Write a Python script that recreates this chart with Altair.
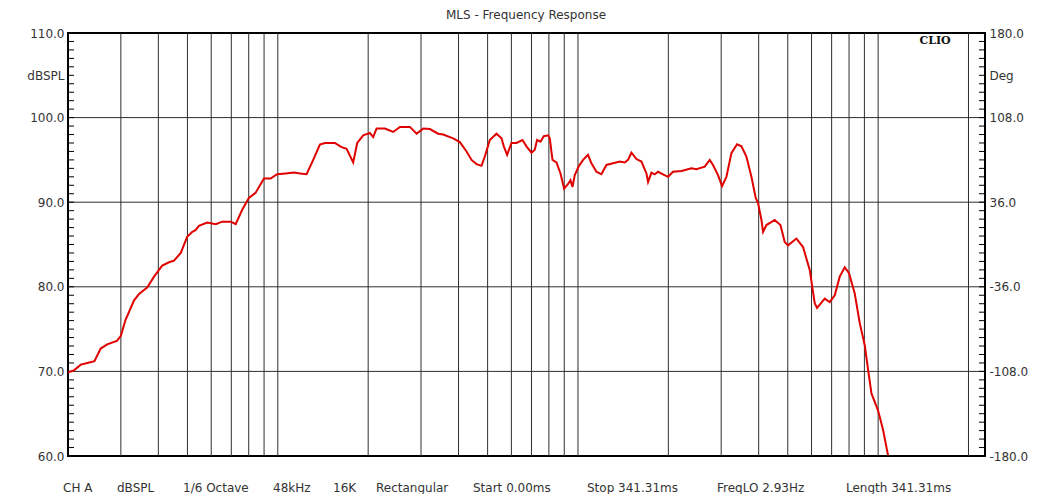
import altair as alt
import pandas as pd

# ---- data ----
freq_hz = [20.0, 20.9, 22.05, 23.2, 24.5, 25.7, 27.0, 29.1, 30.0, 31.1,
           33.2, 34.5, 36.7, 38.7, 41.2, 43.4, 45.1, 47.5, 49.9, 51.9,
           53.2, 54.6, 58.2, 62.1, 65.3, 69.7, 72.4, 76.1, 80.1, 84.3,
           89.9, 94.6, 99.5, 106.2, 113.2, 118.5, 124.7, 131.2, 138.1, 143.5,
           154.9, 163.0, 169.5, 178.3, 183.9, 192.6, 202.6, 207.8, 213.3, 227.4,
           242.4, 255.1, 275.4, 290.0, 305.0, 321.0, 342.1, 355.5, 383.9, 404.1,
           425.4, 442.0, 459.2, 477.1, 489.4, 508.5, 535.3, 556.2, 566.2, 580.7,
           600.5, 623.9, 653.3, 673.6, 700.0, 718.0, 730.9, 750.2, 769.4, 795.2,
           805.5, 822.4, 848.0, 874.5, 899.0, 927.0, 944.2, 958.7, 975.8, 1008,
           1040, 1080, 1109, 1152, 1197, 1244, 1309, 1378, 1432, 1468,
           1507, 1566, 1627, 1691, 1712, 1757, 1802, 1848, 1920, 1996,
           2073, 2212, 2387, 2481, 2644, 2748, 2818, 2928, 3020, 3123,
           3245, 3388, 3504, 3640, 3783, 3910, 3980, 4086, 4136, 4245,
           4524, 4726, 4884, 5010, 5343, 5621, 5917, 6149, 6259, 6639,
           6898, 7168, 7449, 7740, 7999, 8357, 8684, 9025, 9257, 9501,
           9991, 10383, 10787]

spl_db = [69.9, 70.1, 70.8, 71.0, 71.2, 72.7, 73.2, 73.6, 74.2, 76.1,
          78.4, 79.15, 79.9, 81.2, 82.5, 82.9, 83.1, 84.0, 85.9, 86.5,
          86.7, 87.2, 87.6, 87.4, 87.7, 87.7, 87.4, 89.1, 90.5, 91.1,
          92.8, 92.8, 93.3, 93.4, 93.5, 93.4, 93.3, 95.0, 96.8, 97.0,
          97.0, 96.5, 96.3, 94.7, 97.0, 97.9, 98.2, 97.7, 98.7, 98.7,
          98.3, 98.9, 98.9, 98.1, 98.7, 98.65, 98.1, 98.0, 97.55, 97.1,
          96.0, 95.0, 94.5, 94.3, 95.4, 97.35, 98.1, 97.55, 96.6, 95.6,
          97.0, 97.0, 97.35, 96.6, 95.85, 96.2, 97.35, 97.15, 97.8, 97.9,
          97.55, 95.0, 94.7, 93.4, 91.6, 92.15, 92.6, 91.8, 93.2, 94.3,
          95.0, 95.6, 94.6, 93.6, 93.3, 94.4, 94.6, 94.8, 94.7, 95.0,
          95.85, 95.1, 94.8, 93.4, 92.4, 93.5, 93.3, 93.6, 93.3, 93.0,
          93.6, 93.7, 94.0, 93.9, 94.2, 95.0, 94.4, 93.2, 91.9, 93.0,
          95.8, 96.85, 96.6, 95.4, 93.0, 90.5, 89.9, 87.9, 86.5, 87.3,
          87.9, 87.3, 85.3, 84.9, 85.7, 84.7, 82.0, 78.05, 77.5, 78.6,
          78.2, 79.0, 81.2, 82.3, 81.6, 79.2, 75.7, 73.1, 70.2, 67.4,
          65.4, 63.1, 60.1]

grid_freqs = [30, 40, 50, 60, 70, 80, 90, 100,
              200, 300, 400, 500, 600, 700, 800, 900, 1000,
              2000, 3000, 4000, 5000, 6000, 7000, 8000, 9000, 10000, 20000]
grid_db = [70, 80, 90, 100]
minor_db = list(range(60, 111))

x_label_values = [20, 50, 100, 200, 500, 1000, 2000, 3000, 5000, 10000, 20000]
x_label_texts = ["20", "50", "100", "200", "500", "1k", "2k", "Hz", "5k", "10k", "20k"]

left_label_values = [60, 70, 80, 90, 100, 105, 110]
left_unit = "dBSPL"
right_unit = "Deg"

title_text = "MLS - Frequency Response"
brand_text = "CLIO"
footer_items = ["CH A", "dBSPL", "1/6 Octave", "48kHz", "16K", "Rectangular",
                "Start 0.00ms", "Stop 341.31ms", "FreqLO 2.93Hz", "Length 341.31ms"]

# ---- layout ----
W, H = 917, 423
FONT = "DejaVu Sans"
TXT = "#333333"
GRID = "#2e2e2e"
footer_x = [-5, 49, 115, 205, 265, 308, 405, 519, 649, 778]

xs = alt.Scale(type="log", domain=[20, 22700], nice=False)
ys = alt.Scale(domain=[60, 110], nice=False, zero=False)

x_expr = ""
for v, t in zip(x_label_values, x_label_texts):
    x_expr += f"datum.value == {v} ? '{t}' : "
x_expr += "''"

x_axis = alt.Axis(values=x_label_values, labelExpr=x_expr, ticks=False, domain=False,
                  grid=False, title=None, labelFont=FONT, labelFontSize=12,
                  labelColor=TXT, labelPadding=6, labelFlush=False, labelOverlap=False)
left_axis = alt.Axis(values=left_label_values, orient="left",
                     labelExpr=f"datum.value == 105 ? '{left_unit}' : format(datum.value, '.1f')",
                     ticks=False, domain=False, grid=False, title=None, labelFont=FONT,
                     labelFontSize=12, labelColor=TXT, labelPadding=4, labelOverlap=False)
right_axis = alt.Axis(values=left_label_values, orient="right",
                      labelExpr=(f"datum.value == 105 ? '{right_unit}' : "
                                 "replace(format((datum.value - 85) * 7.2, '.1f'), '\u2212', '-')"),
                      ticks=False, domain=False, grid=False, title=None, labelFont=FONT,
                      labelFontSize=12, labelColor=TXT, labelPadding=4, labelOverlap=False)

df_curve = pd.DataFrame({"f": freq_hz, "db": spl_db})
df_gv = pd.DataFrame({"f": grid_freqs})
df_gh = pd.DataFrame({"db": grid_db})
df_minor = pd.DataFrame({"db": minor_db})

vgrid = alt.Chart(df_gv).mark_rule(color=GRID, strokeWidth=1).encode(
    x=alt.X("f:Q", scale=xs, axis=x_axis))
hgrid = alt.Chart(df_gh).mark_rule(color=GRID, strokeWidth=1).encode(
    y=alt.Y("db:Q", scale=ys, axis=left_axis))
ticks_l = alt.Chart(df_minor).mark_rule(color="#000", strokeWidth=1).encode(
    y=alt.Y("db:Q", scale=ys, axis=None), x=alt.value(0), x2=alt.value(6))
ticks_r = alt.Chart(df_minor).mark_rule(color="#000", strokeWidth=1).encode(
    y=alt.Y("db:Q", scale=ys, axis=right_axis), x=alt.value(W - 6), x2=alt.value(W))
curve = alt.Chart(df_curve).mark_line(color="#e00000", strokeWidth=2).encode(
    x=alt.X("f:Q", scale=xs, axis=None), y=alt.Y("db:Q", scale=ys, axis=None))

title = alt.Chart(pd.DataFrame({"t": [title_text]})).mark_text(
    font=FONT, fontSize=12, color=TXT, align="center", baseline="middle").encode(
    text="t:N", x=alt.value(458), y=alt.value(-18))
brand = alt.Chart(pd.DataFrame({"t": [brand_text]})).mark_text(
    font="DejaVu Serif", fontWeight="bold", fontSize=11, color="#111", align="center",
    baseline="middle").encode(text="t:N", x=alt.value(867), y=alt.value(8))

footer_layers = []
for item, fx in zip(footer_items, footer_x):
    footer_layers.append(
        alt.Chart(pd.DataFrame({"t": [item]})).mark_text(
            font=FONT, fontSize=12, color=TXT, align="left", baseline="middle").encode(
            text="t:N", x=alt.value(fx), y=alt.value(H + 32)))

chart = alt.layer(vgrid, hgrid, ticks_l, ticks_r, curve, title, brand, *footer_layers).resolve_scale(
    y="independent").properties(
    width=W, height=H,
    padding={"left": 60, "top": 25, "right": 47, "bottom": 38},
    autosize=alt.AutoSizeParams(type="none"),
    background="white",
).configure_view(stroke="#000", strokeWidth=2)

chart.save("out.html", embed_options={"renderer": "svg", "actions": False})
